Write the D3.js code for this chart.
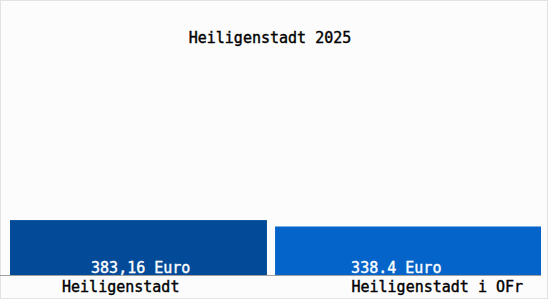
<!DOCTYPE html>
<html>
<head>
<meta charset="utf-8">
<script src="https://cdn.jsdelivr.net/npm/d3@7"></script>
<style>
  body { margin: 0; background: #fff; }
  text { font-family: "DejaVu Sans Mono", monospace; font-size: 15px; stroke-width: 0.4px; }
</style>
</head>
<body>
<div id="chart"></div>
<script>
var svgWidth = 550;
var svgHeight = 300;

// data
var places = ["Heiligenstadt", "Heiligenstadt i OFr"];
var values = [383.16, 338.4];
var valueLabels = ["383,16 Euro", "338.4 Euro"];
var title = "Heiligenstadt 2025";

var colors = ["#034b98", "#0564c9"];
// small nudges to mimic label placement in the original
var valueDx = [0, -14];
var nameDx = [-20, 27];

var svg = d3.select("#chart")
  .append("svg")
  .attr("width", svgWidth)
  .attr("height", svgHeight);

svg.append("rect")
  .attr("x", 0.5).attr("y", 0.5)
  .attr("width", 547).attr("height", 298)
  .attr("fill", "#fcfcfc")
  .attr("stroke", "#e2e2e2");

var xScale = d3.scaleBand()
  .domain(places)
  .range([10, 541])
  .paddingInner(0.03);

var yScale = d3.scaleLinear()
  .domain([0, 1500])
  .range([275, 60]);

var rows = places.map(function(p, i) {
  return { name: p, value: values[i], label: valueLabels[i], i: i };
});

svg.selectAll(".bar")
  .data(rows)
  .enter().append("rect")
  .attr("class", "bar")
  .attr("x", d => xScale(d.name) - d.i * 4.5)
  .attr("y", d => yScale(d.value))
  .attr("width", d => xScale.bandwidth() + (d.i ? 4.5 : -4.5))
  .attr("height", d => yScale(0) - yScale(d.value))
  .attr("fill", d => colors[d.i]);

// baseline
svg.append("line")
  .attr("x1", 0).attr("x2", 541)
  .attr("y1", yScale(0) + 0.5).attr("y2", yScale(0) + 0.5)
  .attr("stroke", "#a0a0a0");

svg.selectAll(".val")
  .data(rows)
  .enter().append("text")
  .attr("class", "val")
  .attr("text-anchor", "middle")
  .attr("x", d => xScale(d.name) + xScale.bandwidth() / 2 + valueDx[d.i])
  .attr("y", 273)
  .attr("fill", "#ffffff")
  .attr("stroke", "#ffffff")
  .text(d => d.label);

svg.selectAll(".name")
  .data(rows)
  .enter().append("text")
  .attr("class", "name")
  .attr("text-anchor", "middle")
  .attr("x", d => xScale(d.name) + xScale.bandwidth() / 2 + nameDx[d.i])
  .attr("y", 292)
  .attr("fill", "#000")
  .attr("stroke", "#000")
  .text(d => d.name);

svg.append("text")
  .attr("x", 270)
  .attr("y", 43)
  .attr("text-anchor", "middle")
  .attr("fill", "#000")
  .attr("stroke", "#000")
  .text(title);
</script>
</body>
</html>
